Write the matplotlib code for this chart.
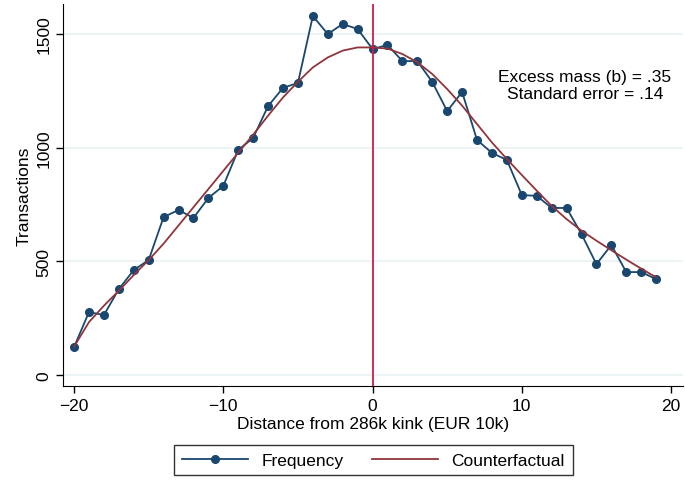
import matplotlib
matplotlib.use("Agg")
import matplotlib.pyplot as plt
import numpy as np

plt.rcParams['font.family'] = ['Liberation Sans', 'DejaVu Sans']

x = list(range(-20, 20))
frequency = [123, 277, 264, 378, 462, 506, 695, 726, 691, 779,
             832, 990, 1043, 1183, 1263, 1285, 1579, 1500, 1544, 1522,
             1434, 1452, 1381, 1381, 1289, 1161, 1245, 1034, 977, 946,
             792, 788, 735, 735, 620, 488, 572, 453, 453, 422]
counterfactual = [125, 233, 305, 371, 440, 506, 578, 658, 738, 818,
                  898, 978, 1057, 1141, 1221, 1290, 1353, 1397, 1427, 1441,
                  1441, 1436, 1412, 1376, 1324, 1258, 1185, 1104, 1023, 950,
                  880, 811, 744, 686, 635, 591, 549, 508, 468, 430]
xticks = [-20, -10, 0, 10, 20]
yticks = [0, 500, 1000, 1500]
annot = "Excess mass (b) = .35\nStandard error = .14"

navy = "#1a476f"
maroon = "#90353b"
kinkc = "#d7194a"

fig = plt.figure(figsize=(6.85, 4.81), dpi=100)
ax = fig.add_axes([63/685, 1-387/481, (683-63)/685, (387-5)/481])

for yt in yticks:
    ax.axhline(yt, color="#eaf2f3", lw=1.2, zorder=0)

ax.plot(x, frequency, color=navy, lw=1.3, marker="o", ms=5.5, label="Frequency", zorder=3)
ax.plot(x, counterfactual, color=maroon, lw=1.3, label="Counterfactual", zorder=4)
ax.axvline(0, color=kinkc, lw=1.3, zorder=5)

ax.set_xlim(-20.74, 20.8)
ax.set_ylim(-48, 1632)
ax.set_xticks(xticks)
ax.set_yticks(yticks)
ax.set_yticklabels([str(v) for v in yticks], rotation=90, va="center")
ax.tick_params(direction="out", length=5, labelsize=12.5, width=1)
ax.spines["top"].set_visible(False)
ax.spines["right"].set_visible(False)
ax.set_xlabel("Distance from 286k kink (EUR 10k)", fontsize=12.5, labelpad=2)
ax.set_ylabel("Transactions", fontsize=12.5, labelpad=3)

ax.text(585/685, 1-86/481, annot, transform=fig.transFigure, ha="center", va="center",
        fontsize=12.5, linespacing=1.15)

leg = fig.legend(loc="center", bbox_to_anchor=(373.5/685, 1-461/481), ncol=2,
                 frameon=True, fancybox=False, edgecolor="black", fontsize=12.5,
                 handlelength=3.8, columnspacing=1.6, borderpad=0.45)
leg.get_frame().set_linewidth(1.0)

fig.savefig("out.png", dpi=100)
